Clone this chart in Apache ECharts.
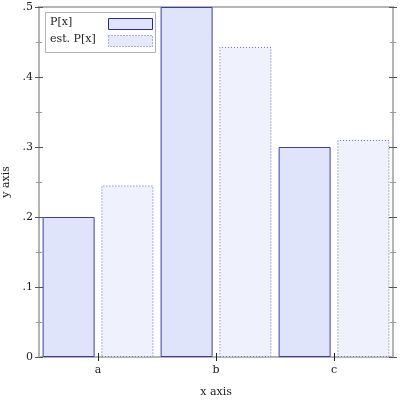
<!DOCTYPE html>
<html>
<head>
<meta charset="utf-8">
<script src="https://cdn.jsdelivr.net/npm/echarts@6/dist/echarts.min.js"></script>
<style>
  html, body { margin: 0; padding: 0; background: #fff; }
  #chart { width: 400px; height: 400px; }
</style>
</head>
<body>
<div id="chart"></div>
<script>
// data
var categories = ['a', 'b', 'c']
var pValues = [0.2, 0.5, 0.3]
var estValues = [0.245, 0.443, 0.31]
var seriesNames = ['P[x]', 'est. P[x]']

var FONT = 'DejaVu Serif'
var pStyle = { color: '#e0e4fa', borderColor: '#3c3ca6', borderWidth: 1 }
var estStyle = { color: '#eff1fd', borderColor: '#6464c8', borderWidth: 1, borderType: [1, 2] }

var chart = echarts.init(document.getElementById('chart'))

// y axis, several copies so ticks can cross the frame on both sides
function yAx(pos, inside, showLabel) {
  return {
    type: 'value',
    position: pos,
    offset: 0,
    min: 0,
    max: 0.5,
    interval: 0.1,
    name: showLabel ? 'y axis' : '',
    nameLocation: 'middle',
    nameGap: 27,
    nameTextStyle: { fontFamily: FONT, fontSize: 11, color: '#222' },
    axisLine: { show: true, lineStyle: { color: '#b4b4b4', width: 2 } },
    axisTick: { show: true, inside: inside, length: 4, lineStyle: { color: '#555' } },
    minorTick: { show: true, splitNumber: 2, length: 3, lineStyle: { color: '#999' } },
    axisLabel: {
      show: showLabel,
      margin: 6,
      fontFamily: FONT,
      fontSize: 11,
      color: '#222',
      formatter: function (v) {
        if (v === 0) return '0'
        return String(+v.toFixed(2)).replace(/^0/, '')
      }
    },
    splitLine: { show: false }
  }
}

function xAx(inside, showLabel) {
  return {
    type: 'category',
    data: categories,
    position: 'bottom',
    offset: 0,
    name: showLabel ? 'x axis' : '',
    nameLocation: 'middle',
    nameGap: 30,
    nameTextStyle: { fontFamily: FONT, fontSize: 11, color: '#222' },
    axisLine: { show: true, lineStyle: { color: '#b4b4b4', width: 2 } },
    axisTick: { show: true, inside: inside, alignWithLabel: true, length: 4, lineStyle: { color: '#222' } },
    axisLabel: { show: showLabel, margin: 8, fontFamily: FONT, fontSize: 11, color: '#222' },
    splitLine: { show: false }
  }
}

// legend drawn by hand: text left, swatch right, like the original
var legendGraphics = [
  { type: 'rect', left: 45, top: 12, shape: { width: 110, height: 40 },
    style: { fill: '#fff', stroke: '#b4b4b4', lineWidth: 1 }, z: 100 },
  { type: 'text', left: 50, top: 17, style: { text: seriesNames[0], font: '11px "' + FONT + '"', fill: '#222' }, z: 101 },
  { type: 'text', left: 50, top: 34, style: { text: seriesNames[1], font: '11px "' + FONT + '"', fill: '#222' }, z: 101 },
  { type: 'rect', left: 108, top: 18, shape: { width: 44, height: 11 },
    style: { fill: pStyle.color, stroke: '#2a2a96', lineWidth: 1 }, z: 101 },
  { type: 'rect', left: 108, top: 35, shape: { width: 44, height: 11 },
    style: { fill: '#e6e9fb', stroke: estStyle.borderColor, lineWidth: 1, lineDash: [1, 2] }, z: 101 }
]

var option = {
  animation: false,
  grid: {
    left: 39, right: 7, top: 7, bottom: 43,
    containLabel: false,
    outerBoundsMode: 'none',
    show: true,
    borderColor: '#b4b4b4',
    borderWidth: 2
  },
  graphic: legendGraphics,
  xAxis: [xAx(false, true), xAx(true, false)],
  yAxis: [yAx('left', false, true), yAx('left', true, false), yAx('right', false, false), yAx('right', true, false)],
  series: [
    {
      name: seriesNames[0],
      type: 'bar',
      data: pValues,
      barWidth: 52,
      barGap: '13%',
      itemStyle: pStyle
    },
    {
      name: seriesNames[1],
      type: 'bar',
      data: estValues,
      barWidth: 52,
      itemStyle: estStyle
    }
  ]
}
chart.setOption(option)
</script>
</body>
</html>
